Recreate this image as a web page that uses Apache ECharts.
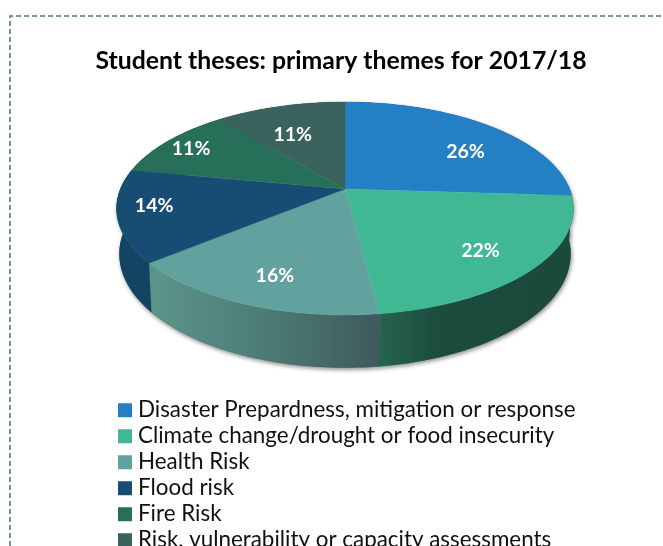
<!DOCTYPE html>
<html>
<head>
<meta charset="utf-8">
<style>
  html, body { margin: 0; padding: 0; background: #fff; overflow: hidden; }
  #chart { width: 663px; height: 546px; }
</style>
<script src="https://cdn.jsdelivr.net/npm/echarts@6/dist/echarts.min.js"></script>
</head>
<body>
<div id="chart"></div>
<script>
// Thesis themes and their share of the year's total, in percent
const themes = [
  'Disaster Prepardness, mitigation or response',
  'Climate change/drought or food insecurity',
  'Health Risk',
  'Flood risk',
  'Fire Risk',
  'Risk, vulnerability or capacity assessments'
];
const shares = [26, 22, 16, 14, 11, 11];
const chartTitle = 'Student theses: primary themes for 2017/18';

// Appearance of each slice: top face and side wall gradient stops
const faceColors = ['#2480c4', '#40b894', '#62a29e', '#174d73', '#276f58', '#3b635e'];
const wallStops = [
  [[0, '#1a5a8a'], [1, '#1a5a8a']],
  [[0, '#26644f'], [0.3, '#1c4c3d'], [1, '#1b4a3b']],
  [[0, '#5c958b'], [0.5, '#4c7c75'], [1, '#3e5a5c']],
  [[0, '#134463'], [1, '#134463']],
  [[0, '#1c5241'], [1, '#1c5241']],
  [[0, '#2a4844'], [1, '#2a4844']]
];

// Perspective disc: centre, half axes and how strongly the near edge grows
const disc = { cx: 345, cy: 189, halfWidth: 224.6, halfDepth: 102.9, tilt: 0.183 };
// Lower rim of the side wall relative to the top rim
const rim = { scaleX: 0.988, scaleY: 1.07, drop: 44 };
// Where each percentage sits: fraction of the radius and a turn in degrees from mid-slice
const labelRadius = [0.70, 0.76, 0.77, 0.84, 0.86, 0.65];
const labelTurn = [8.5, 1, -1, 4, 0, -3.6];

const total = shares.reduce((a, b) => a + b, 0);
const startAngles = [];
shares.reduce((acc, s, i) => { startAngles[i] = acc; return acc + s; }, 0);
const toRad = (share) => share / total * Math.PI * 2;

// Project a polar position on the disc (clockwise from twelve o'clock) to the canvas
function onDisc(angle, radius) {
  const u = radius * Math.sin(angle);
  const v = -radius * Math.cos(angle);
  const den = 1 - disc.tilt * v;
  return [disc.halfWidth * u / den, disc.halfDepth * v / den];
}
const topPoint = (a, r) => {
  const p = onDisc(a, r);
  return [disc.cx + p[0], disc.cy + p[1]];
};
const basePoint = (a) => {
  const p = onDisc(a, 1);
  return [disc.cx + p[0] * rim.scaleX, disc.cy + p[1] * rim.scaleY + rim.drop];
};

function arc(from, to, fn) {
  const steps = Math.max(8, Math.ceil((to - from) / 0.02));
  const pts = [];
  for (let i = 0; i <= steps; i++) pts.push(fn(from + (to - from) * i / steps));
  return pts;
}

function renderSlice(index) {
  return function (params, api) {
    const value = api.value(0);
    const from = toRad(startAngles[index]);
    const to = from + toRad(value);
    const topArc = arc(from, to, (a) => topPoint(a, 1));
    const baseArc = arc(from, to, basePoint);
    const wall = topArc.concat(baseArc.slice().reverse());
    const mid = (from + to) / 2 + labelTurn[index] * Math.PI / 180;
    const at = topPoint(mid, labelRadius[index]);
    return {
      type: 'group',
      silent: true,
      children: [
        {
          type: 'polygon', z2: 1, shape: { points: wall },
          style: {
            fill: '#777', shadowBlur: 4, shadowOffsetX: 1, shadowOffsetY: 2,
            shadowColor: 'rgba(0,0,0,0.45)'
          }
        },
        {
          type: 'polygon', z2: 2, shape: { points: wall },
          style: {
            fill: new echarts.graphic.LinearGradient(0, 0, 1, 0,
              wallStops[index].map((s) => ({ offset: s[0], color: s[1] })))
          }
        },
        {
          type: 'polygon', z2: 3,
          shape: { points: [[disc.cx, disc.cy]].concat(topArc) },
          style: { fill: faceColors[index], stroke: faceColors[index], lineWidth: 0.4 }
        },
        {
          type: 'text', z2: 4, x: at[0], y: at[1] + 1,
          style: {
            text: value + '%', fill: '#fff', align: 'center', verticalAlign: 'middle',
            font: 'bold 19.5px Lato, "Open Sans", sans-serif'
          }
        }
      ]
    };
  };
}

const chart = echarts.init(document.getElementById('chart'), null, { renderer: 'canvas' });
chart.setOption({
  animation: false,
  backgroundColor: '#ffffff',
  title: {
    text: chartTitle,
    left: 336, top: 44, textAlign: 'center',
    textStyle: { fontFamily: 'Lato, "Open Sans", sans-serif', fontSize: 24.8, fontWeight: 'bold', color: '#000' }
  },
  legend: {
    orient: 'vertical',
    left: 118, top: 399, height: 220, padding: 0,
    itemWidth: 14, itemHeight: 14, itemGap: 3.5,
    icon: 'rect',
    data: themes,
    selectedMode: false,
    textStyle: {
      fontFamily: 'Lato, "Open Sans", sans-serif', fontSize: 22.4, color: '#111',
      padding: [0, 0, 0, 1], lineHeight: 22.5
    }
  },
  graphic: [{
    type: 'polyline', silent: true,
    shape: { points: [[661, 16], [10, 16], [10, 546]] },
    style: { stroke: '#3f7a78', lineWidth: 1.5, lineDash: [5, 3], fill: null }
  }],
  series: themes.map((name, i) => ({
    type: 'custom',
    name: name,
    coordinateSystem: 'none',
    itemStyle: { color: faceColors[i] },
    renderItem: renderSlice(i),
    data: [[shares[i]]]
  }))
});
</script>
</body>
</html>
